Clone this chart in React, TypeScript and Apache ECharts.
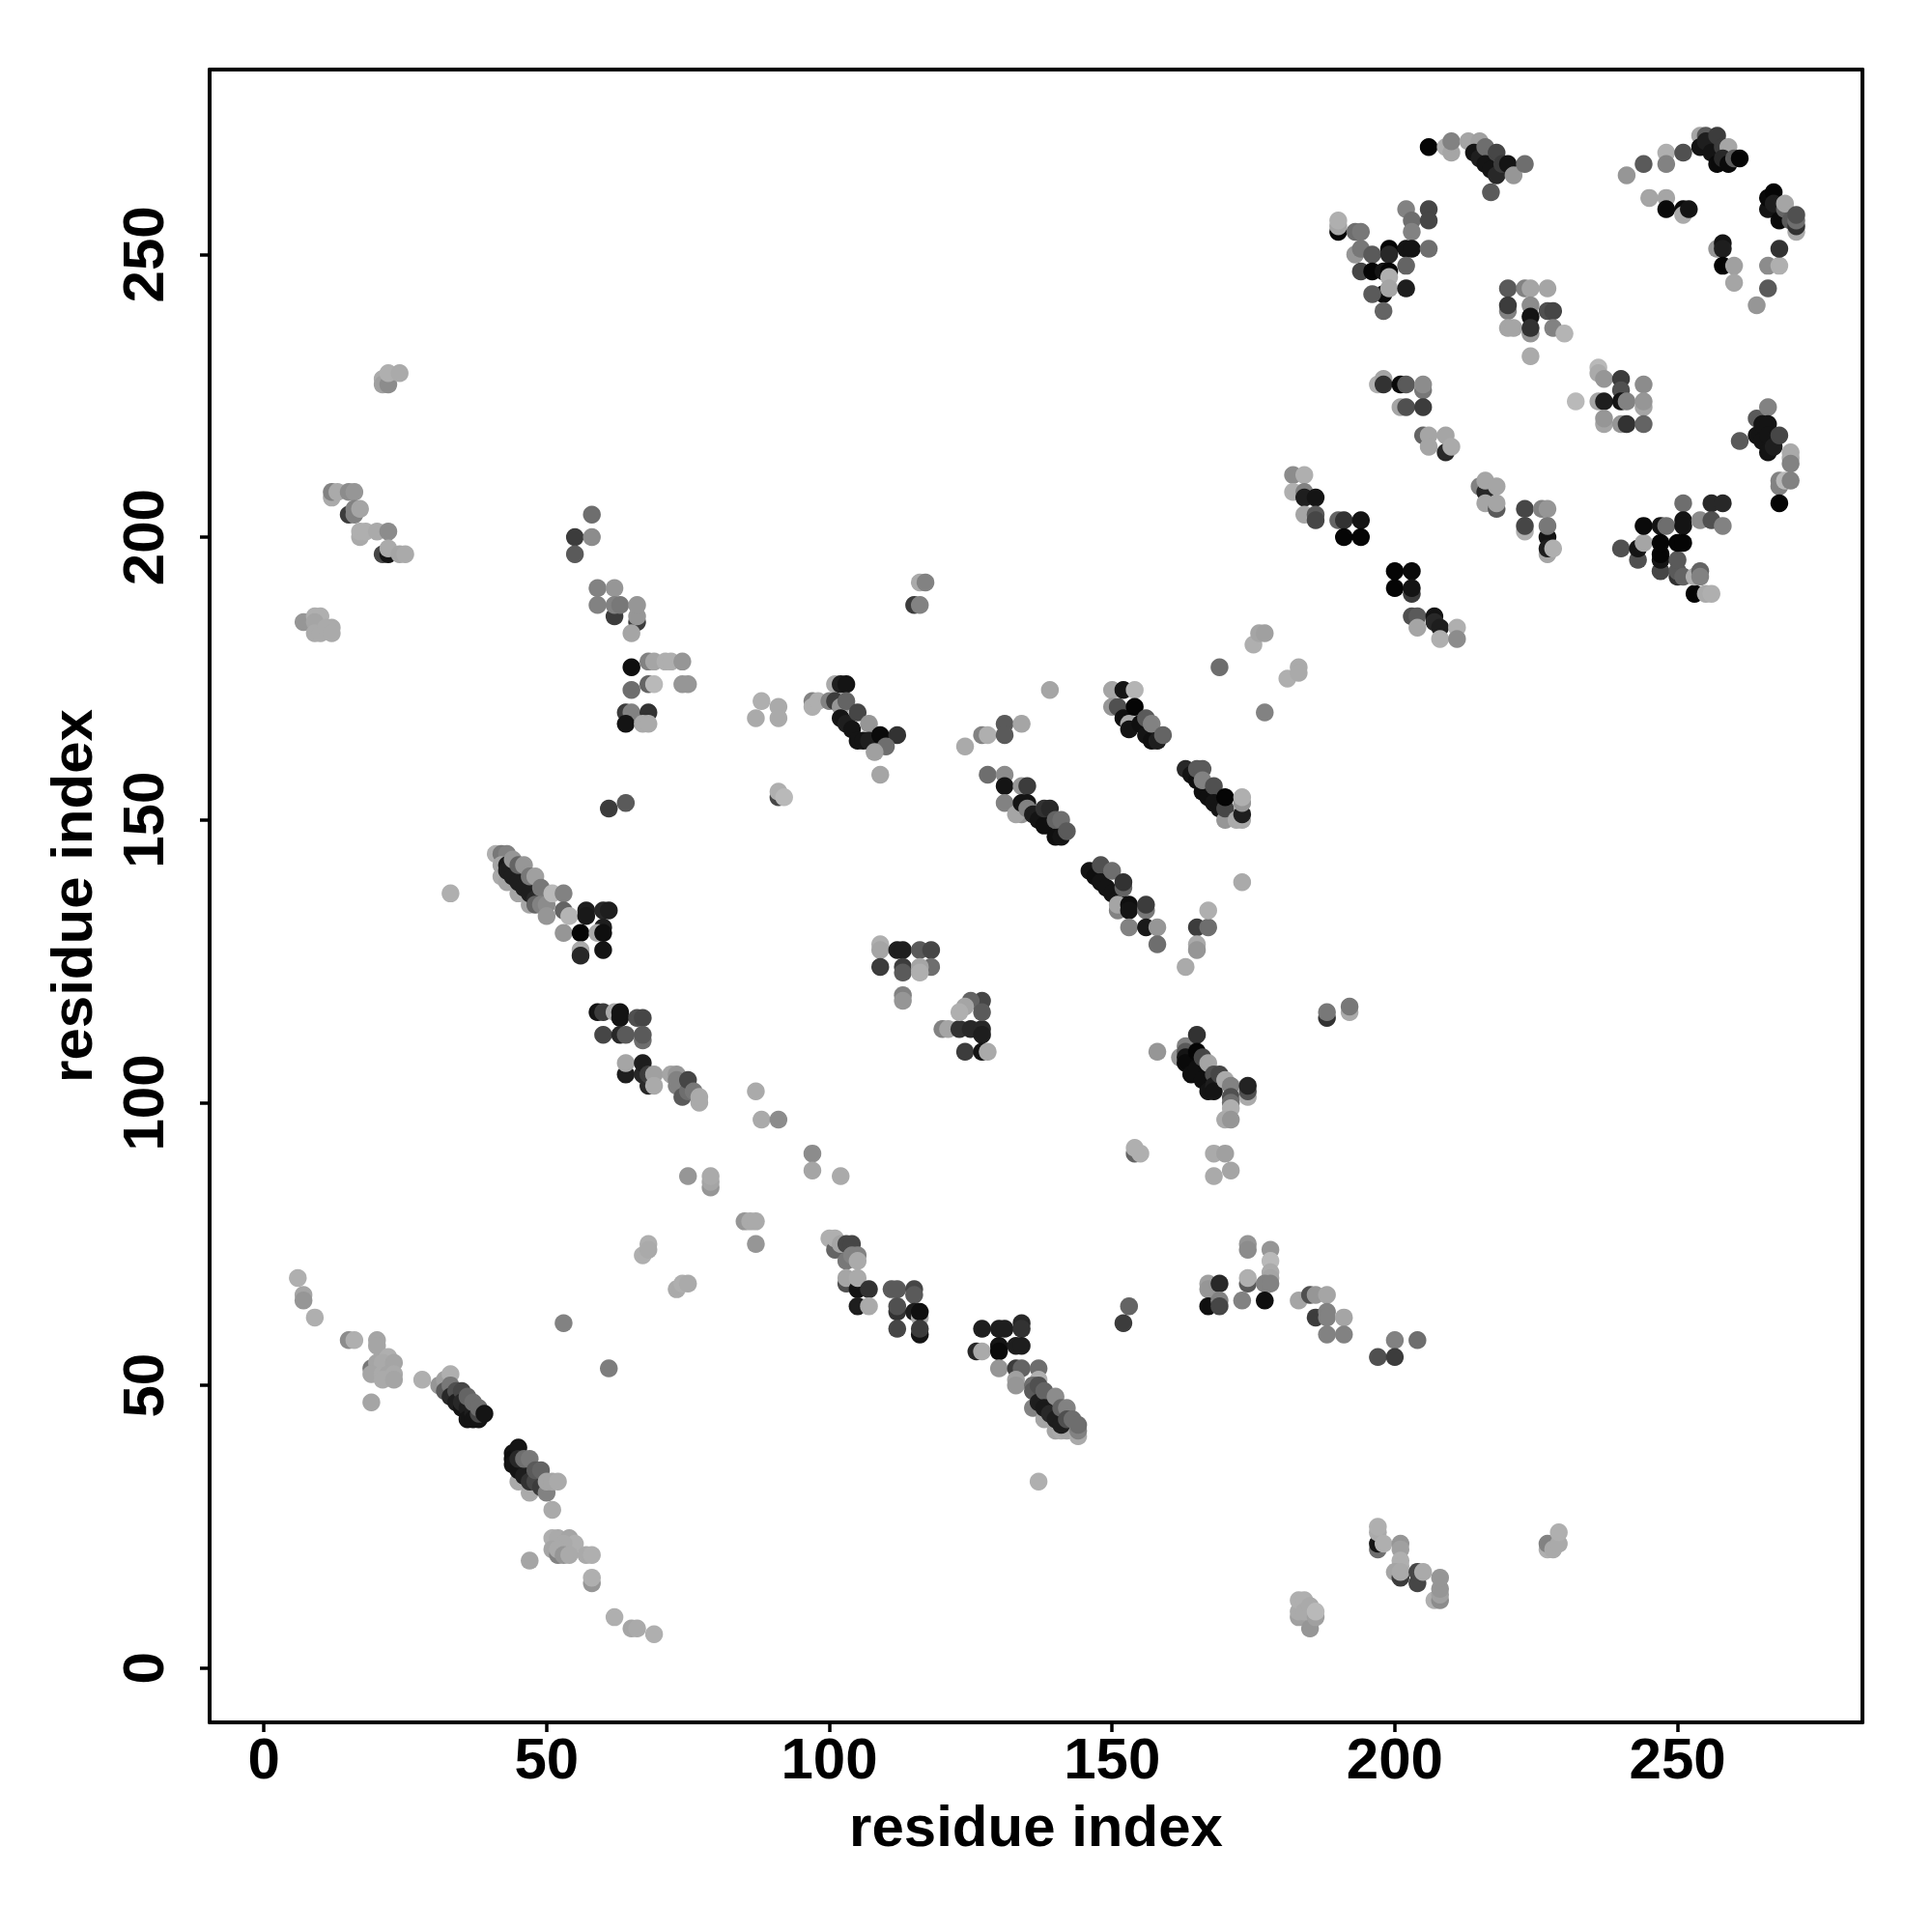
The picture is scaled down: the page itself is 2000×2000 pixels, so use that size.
import React, { useEffect, useRef } from "react";
import * as echarts from "echarts";

type P = [number, number, number];

const xTicks = [0, 50, 100, 150, 200, 250];
const yTicks = [0, 50, 100, 150, 200, 250];
const axisTitle = "residue index";

// each triple: residue x, residue y, grey level of the mark
const lowerLeft: P[] = [[6,69,175],[7,66,165],[7,65,150],[9,62,175],[15,58,140],[16,58,175],[20,58,165],[20,57,165],[19,53,120],[20,54,165],[20,53,165],[22,55,175],[21,54,170],[23,54,165],[19,52,165],[21,52,170],[22,52,165],[23,52,170],[21,51,170],[23,51,165],[19,47,165],[28,51,175]];
const diagA: P[] = [[31,50,150],[32,51,160],[33,52,175],[32,49,90],[33,50,120],[33,48,40],[34,49,80],[34,47,30],[35,46,20],[35,49,70],[35,47,40],[36,46,30],[36,48,100],[36,44,20],[37,45,30],[37,47,110],[37,44,20],[38,44,20],[38,45,70],[38,46,110],[39,45,20]];
const diagB: P[] = [[45,33,170],[47,31,170],[44,38,20],[44,37,15],[44,36,20],[45,39,20],[45,35,20],[45,37,40],[46,34,30],[46,37,110],[47,33,50],[47,37,120],[48,33,70],[48,35,90],[49,32,60],[49,35,100],[50,31,130],[50,33,165],[51,33,165],[52,33,170],[51,28,170]];
const lowerTail: P[] = [[51,23,175],[52,23,170],[54,23,165],[55,22,175],[51,21,165],[53,22,170],[52,20,130],[52,21,170],[53,20,150],[54,20,170],[57,20,170],[58,20,175],[58,15,150],[58,16,175],[47,19,165],[62,9,175],[65,7,165],[66,7,170],[69,6,175],[53,61,130],[61,53,125]];
const midLow: P[] = [[67,73,175],[68,75,175],[68,74,170],[73,67,170],[74,68,175],[75,68,170],[75,87,150],[79,85,150],[79,86,165],[79,87,170],[85,79,150],[86,79,170],[87,79,170],[87,75,150],[87,102,170],[88,97,170],[91,97,140],[97,91,140],[97,88,165],[102,87,170]];
const cluster100: P[] = [[100,76,175],[101,74,100],[101,76,175],[102,75,165],[103,75,70],[104,75,70],[103,72,120],[104,73,130],[105,73,130],[105,72,170],[103,68,80],[103,69,165],[105,67,20],[105,69,170],[107,67,50],[105,64,30],[107,64,170],[111,67,90],[112,67,90],[115,67,70],[115,66,90],[112,63,50],[112,64,80],[115,63,30],[116,62,170],[116,63,15],[112,60,70],[116,59,20],[116,60,60]];
const row110: P[] = [[59,116,20],[60,116,60],[62,116,170],[63,115,20],[63,116,20],[66,115,80],[67,115,70],[60,112,70],[63,112,40],[64,112,90],[67,111,110],[67,112,90],[64,105,30],[64,107,165],[67,105,40],[67,107,30],[68,103,40],[68,105,60],[69,105,160],[69,103,170],[72,105,165],[73,105,150],[73,103,130],[73,104,130],[74,101,90],[75,102,110],[75,104,70],[76,102,120],[77,100,170],[77,101,170]];
const upperLeft: P[] = [[21,228,170],[21,227,160],[22,227,140],[22,229,175],[24,229,170],[12,207,170],[12,208,130],[13,208,170],[15,208,140],[16,208,150],[15,204,60],[16,204,130],[16,205,130],[17,205,165],[17,200,170],[17,201,175],[18,201,175],[20,201,170],[22,201,140],[21,197,70],[22,197,20],[22,198,170],[24,197,165],[25,197,170],[7,185,150],[9,186,175],[10,186,175],[9,185,165],[9,183,170],[10,183,170],[11,184,170],[12,184,170],[12,183,170]];
const col60: P[] = [[58,204,110],[55,200,60],[58,200,140],[55,197,90],[59,191,130],[62,191,150],[59,188,130],[62,186,60],[62,188,130],[63,188,120],[66,185,60],[66,186,150],[66,188,150],[65,183,165],[65,177,15],[68,178,130],[69,178,165],[71,178,175],[72,178,175],[74,178,150],[68,174,100],[69,174,185],[74,174,150],[75,174,150],[65,173,110],[64,169,60],[65,169,130],[68,169,50],[64,167,20],[67,167,170],[68,167,170],[61,152,60],[64,153,90]];
const nearNinety: P[] = [[88,171,175],[91,170,170],[87,168,170],[91,168,170],[91,154,70],[91,155,175],[92,154,185],[97,171,130],[97,170,175],[98,171,175],[100,171,130],[116,192,170],[117,192,130],[115,188,60],[116,188,130],[124,163,170]];
const diag100: P[] = [[101,174,170],[102,174,30],[103,174,20],[101,171,60],[102,170,150],[102,168,20],[103,171,100],[103,167,30],[104,166,20],[105,169,70],[105,164,20],[106,164,20],[107,167,150],[107,164,30],[109,165,10],[112,165,50],[110,163,110],[108,162,160],[109,158,165]];
const diagC: P[] = [[41,144,175],[42,144,120],[43,144,130],[42,140,170],[43,139,165],[45,137,165],[47,135,165],[42,142,165],[43,142,25],[43,141,30],[44,140,30],[44,143,150],[45,139,30],[45,142,100],[46,138,30],[46,142,150],[47,137,30],[47,140,120],[48,136,40],[48,135,100],[48,140,160],[49,138,120],[49,135,130],[50,135,140],[50,133,150],[51,137,185],[53,137,130],[53,134,100],[54,133,180],[53,130,150],[33,137,175]];
const block55: P[] = [[57,134,30],[57,133,25],[60,134,40],[61,134,30],[60,131,30],[56,130,5],[59,130,170],[60,130,15],[56,127,170],[56,126,40],[60,127,20]];
const block110: P[] = [[109,128,175],[109,127,165],[109,124,60],[112,127,30],[113,127,30],[113,124,60],[113,123,90],[113,119,130],[113,118,150],[116,127,90],[118,127,70],[118,124,110],[116,124,165],[116,123,175],[120,113,130],[121,113,165],[123,113,50],[125,113,40],[127,113,40],[127,118,70],[125,118,100],[124,117,165],[123,116,175],[127,116,90],[127,112,30],[124,109,60],[127,109,20],[128,109,170]];
const row55: P[] = [[126,56,40],[127,60,30],[127,56,170],[130,60,30],[131,60,30],[134,61,40],[134,60,50],[130,57,20],[130,56,10],[133,57,30],[134,57,30],[130,53,150],[133,53,60],[134,53,100],[137,53,110],[133,51,160],[133,50,150],[137,51,175],[137,33,175]];
const diagD: P[] = [[136,46,130],[138,44,165],[140,42,165],[141,42,170],[142,42,165],[136,50,110],[136,49,90],[137,50,80],[137,47,30],[138,49,100],[138,46,25],[139,45,40],[140,48,140],[140,44,30],[141,46,100],[141,43,30],[142,46,130],[142,44,80],[143,44,110],[144,41,170],[144,42,130],[144,43,110]];
const lowMid: P[] = [[152,61,60],[153,64,100],[167,68,160],[167,67,150],[169,68,40],[167,64,15],[169,65,130],[169,64,70],[173,65,130],[174,75,150],[174,74,140],[174,68,90],[174,69,175],[178,74,150],[178,72,185],[178,70,170],[178,69,165],[177,68,130],[178,68,130],[177,65,15],[183,65,165],[185,66,80],[186,66,150],[188,66,165],[186,62,60],[188,63,130],[188,62,130],[188,59,130],[191,62,165],[191,59,130],[197,55,80],[200,58,130],[200,55,60],[204,58,110]];
const lowRight: P[] = [[197,21,110],[197,22,20],[197,24,170],[197,25,175],[198,22,175],[201,22,150],[201,21,160],[201,19,175],[201,18,175],[200,17,165],[201,16,60],[201,17,170],[204,15,70],[204,17,70],[205,17,170],[207,12,175],[208,12,140],[208,13,160],[208,14,150],[208,16,150],[227,21,175],[227,22,130],[228,21,170],[229,22,170],[229,24,175],[183,9,160],[183,10,170],[183,12,175],[184,12,175],[184,10,170],[185,11,170],[185,7,150],[186,9,160],[186,10,185],[154,91,100],[154,92,175],[155,91,175],[168,91,170],[170,91,160],[171,88,165],[168,87,170]];
const diagE: P[] = [[158,109,150],[162,108,150],[163,110,130],[163,109,90],[163,108,20],[163,107,10],[164,105,15],[165,112,50],[165,106,15],[165,109,5],[166,108,70],[166,104,15],[167,107,165],[167,102,20],[168,105,80],[168,103,30],[168,102,20],[169,105,70],[170,104,170],[171,103,130],[171,101,80],[171,100,110],[171,99,175],[170,97,170],[171,97,150],[174,101,170],[174,102,80],[174,103,35],[188,115,50],[188,116,120],[192,116,170],[192,117,120]];
const upperMid: P[] = [[127,165,130],[128,165,175],[131,167,90],[131,165,90],[134,167,165],[139,173,165],[128,158,110],[131,158,140],[131,156,20],[131,153,130],[134,156,150],[135,156,60],[134,151,150],[133,151,165],[134,153,20],[135,153,20],[135,152,130],[136,151,30],[137,150,20],[138,149,15],[138,152,50],[139,152,40],[140,147,15],[140,150,100],[141,150,110],[141,147,20],[142,148,90]];
const diagG: P[] = [[146,141,20],[147,140,15],[148,142,80],[148,139,20],[149,138,20],[150,137,20],[150,141,110],[151,136,20],[151,134,130],[151,135,165],[152,138,100],[152,139,50],[153,135,15],[153,134,20],[153,131,130],[156,134,120],[156,135,60],[156,131,25],[158,131,150],[158,128,110],[165,131,60],[167,131,110],[167,134,175],[165,128,170],[165,127,150],[163,124,170],[173,139,170]];
const diagH: P[] = [[163,159,40],[164,158,20],[165,157,15],[165,159,90],[166,159,90],[166,155,15],[166,157,130],[167,154,15],[168,156,80],[168,153,20],[169,152,20],[170,150,150],[170,152,70],[170,154,5],[172,150,170],[173,150,170],[173,151,30],[173,153,150],[173,154,175]];
const diagI: P[] = [[150,173,165],[150,170,150],[151,170,80],[152,173,20],[152,168,15],[153,167,170],[153,166,20],[154,173,180],[154,170,5],[155,167,15],[156,165,20],[156,168,90],[157,164,15],[157,167,130],[158,164,30],[159,165,100],[169,177,110],[175,181,175],[176,183,165],[177,183,160],[177,169,130],[181,175,175],[183,177,170],[183,176,170]];
const diagJ: P[] = [[182,211,140],[184,211,175],[182,208,175],[184,208,130],[184,207,30],[186,207,20],[184,204,165],[186,204,90],[186,203,70],[190,203,100],[191,203,50],[194,203,20],[191,200,5],[194,200,5],[200,194,5],[203,194,10],[200,191,5],[203,190,60],[203,191,20],[203,186,80],[204,186,90],[207,186,20],[207,185,40],[204,184,165],[208,184,30],[211,184,175],[208,182,175],[211,182,140]];
const topArc: P[] = [[206,269,5],[209,269,175],[210,268,165],[210,270,130],[213,270,165],[215,270,160],[214,268,20],[215,267,30],[216,269,110],[216,266,20],[217,265,20],[218,268,70],[218,264,40],[219,266,60],[220,266,20],[221,264,150],[223,266,110],[217,261,90]];
const cluster195: P[] = [[190,254,5],[190,255,165],[190,256,175],[193,254,110],[194,254,120],[193,250,150],[194,251,120],[194,247,70],[196,250,90],[196,247,5],[198,247,20],[198,243,10],[196,243,90],[198,240,100],[199,251,5],[199,250,40],[199,247,5],[199,246,175],[199,244,165],[202,258,130],[202,251,20],[202,248,100],[202,244,30],[203,256,110],[203,254,130],[203,251,20],[206,258,70],[206,256,70],[206,251,110]];
const topRight: P[] = [[241,264,150],[244,266,90],[248,268,175],[248,266,130],[251,268,80],[245,260,165],[248,260,165],[248,258,10],[251,258,10],[251,257,170],[252,258,20],[254,271,165],[254,269,20],[255,271,90],[255,270,30],[256,268,20],[257,271,60],[258,269,60],[259,269,165],[257,266,10],[258,267,40],[259,266,10],[260,267,90],[261,267,5],[257,251,150],[258,252,20],[258,251,30],[258,248,5],[260,248,160],[260,245,165],[266,248,140],[268,248,175],[268,251,50],[266,244,90],[264,241,150]];
const cornerDiag: P[] = [[266,258,20],[266,260,10],[267,261,5],[267,259,30],[268,256,10],[269,258,100],[269,259,165],[270,256,90],[271,254,170],[271,255,50],[271,256,110],[271,257,80]];
const block220: P[] = [[220,244,90],[223,244,130],[224,244,165],[227,244,165],[220,240,130],[220,241,60],[224,241,140],[224,239,20],[227,240,80],[228,240,70],[220,237,165],[221,237,165],[224,236,150],[224,237,50],[228,237,130],[230,236,180],[224,232,170]];
const block240: P[] = [[236,230,185],[236,229,170],[237,228,150],[240,228,60],[244,227,140],[240,226,80],[232,224,185],[236,224,165],[237,224,30],[240,224,20],[241,224,130],[244,223,165],[244,224,150],[237,220,165],[237,221,150],[240,220,150],[241,220,50],[244,220,100]];
const chain205: P[] = [[197,227,175],[198,228,165],[198,227,50],[201,227,10],[202,227,90],[205,226,120],[205,227,140],[201,223,165],[202,223,80],[205,223,60],[205,218,100],[206,218,165],[209,218,165],[206,216,165],[209,215,40],[210,216,170],[215,209,130],[216,208,40],[216,210,165],[218,209,165],[216,206,165],[218,205,90],[218,206,165],[223,205,70],[226,205,130],[227,205,150],[223,201,175],[223,202,70],[227,200,20],[227,202,120],[227,197,165],[227,198,30],[228,198,175]];
const cluster245: P[] = [[240,198,80],[243,196,80],[243,198,20],[244,199,165],[244,202,10],[247,202,20],[248,202,110],[247,194,70],[247,196,20],[247,197,5],[247,199,5],[250,193,50],[250,194,90],[250,196,90],[250,199,5],[251,206,110],[251,203,20],[251,202,20],[251,199,5],[251,193,100],[253,190,5],[253,193,175],[254,194,100],[254,193,130],[254,203,140],[255,190,170],[256,190,175],[256,206,40],[256,203,80],[258,206,40],[258,202,130]];
const rightDiag: P[] = [[261,217,90],[264,221,90],[264,218,20],[265,220,20],[265,217,20],[266,223,130],[266,220,20],[266,218,20],[266,215,20],[267,216,30],[268,218,70],[268,210,130],[268,209,130],[268,206,5],[269,210,185],[270,215,170],[270,214,170],[270,213,130],[270,210,130]];

const allContacts: P[] = [
  ...lowerLeft, ...diagA, ...diagB, ...lowerTail, ...midLow, ...cluster100, ...row110, ...upperLeft, ...col60,
  ...nearNinety, ...diag100, ...diagC, ...block55, ...block110, ...row55, ...diagD, ...lowMid, ...lowRight, ...diagE,
  ...upperMid, ...diagG, ...diagH, ...diagI, ...diagJ, ...topArc, ...cluster195, ...topRight, ...cornerDiag,
  ...block220, ...block240, ...chain205, ...cluster245, ...rightDiag,
];

const FONT = '"Liberation Sans", Arial, sans-serif';

export default function App() {
  const ref = useRef<HTMLDivElement>(null);
  useEffect(() => {
    const chart = echarts.init(ref.current!, undefined, { renderer: "svg" });
    const axisCommon = {
      type: "value" as const,
      min: -9.6,
      max: 282.7,
      nameLocation: "middle" as const,
      nameTextStyle: { fontFamily: FONT, fontWeight: "bold" as const, fontSize: 60, color: "#000" },
      splitLine: { show: false },
      axisLine: { show: true, onZero: false, lineStyle: { color: "#000", width: 4 } },
    };
    chart.setOption({
      animation: false,
      backgroundColor: "#fff",
      grid: { left: 217, right: 72, top: 72, bottom: 217, show: false },
      xAxis: [
        {
          ...axisCommon,
          name: axisTitle,
          nameGap: 77,
          axisTick: { show: true, customValues: xTicks, length: 10, lineStyle: { color: "#000", width: 3.5 } },
          axisLabel: { customValues: xTicks, margin: 7, fontFamily: FONT, fontWeight: "bold", fontSize: 60, color: "#000" },
        },
        { ...axisCommon, position: "top", axisTick: { show: false }, axisLabel: { show: false } },
      ],
      yAxis: [
        {
          ...axisCommon,
          name: axisTitle,
          nameGap: 113,
          nameRotate: 90,
          axisTick: { show: true, customValues: yTicks, length: 10, lineStyle: { color: "#000", width: 3.5 } },
          axisLabel: { customValues: yTicks, rotate: 90, margin: 39, fontFamily: FONT, fontWeight: "bold", fontSize: 60, color: "#000", align: "center", verticalAlign: "bottom" },
        },
        { ...axisCommon, position: "right", axisTick: { show: false }, axisLabel: { show: false } },
      ],
      series: [
        {
          type: "scatter",
          symbol: "circle",
          symbolSize: 18.5,
          silent: true,
          data: allContacts.map(([x, y, g]) => ({
            value: [x, y],
            itemStyle: { color: `rgb(${g},${g},${g})`, opacity: 1 },
          })),
        },
      ],
    });
    return () => chart.dispose();
  }, []);
  return <div ref={ref} style={{ position: "absolute", left: 0, top: 0, width: 2000, height: 2000 }} />;
}
